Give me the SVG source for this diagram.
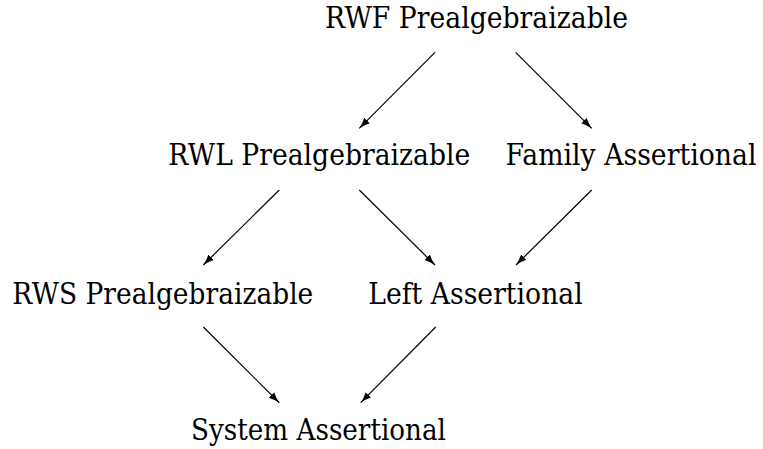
<svg xmlns="http://www.w3.org/2000/svg" width="763" height="449" viewBox="0 0 763 449">
  <style>
    text { font-family: 'DejaVu Serif', 'Liberation Serif', serif; font-size: 29px; fill: #000; }
    .edge { stroke: #000; stroke-width: 1.2; fill: none; marker-end: url(#head); }
  </style>
  <defs>
    <marker id="head" markerUnits="userSpaceOnUse" markerWidth="12" markerHeight="9" refX="11" refY="4" orient="auto" viewBox="0 0 12 9">
      <path d="M0,0.2 Q5.5,3 11,4 Q5.5,5 0,7.8 Z" fill="#000"/>
    </marker>
  </defs>
  <rect width="763" height="449" fill="#fff"/>

  <g id="rwf">
    <text x="325" y="28" textLength="303" lengthAdjust="spacingAndGlyphs">RWF Prealgebraizable</text>
  </g>
  <g id="rwl">
    <text x="168.3" y="164.5" textLength="302" lengthAdjust="spacingAndGlyphs">RWL Prealgebraizable</text>
  </g>
  <g id="family">
    <text x="756.5" y="164.5" text-anchor="end" textLength="251" lengthAdjust="spacingAndGlyphs">Family Assertional</text>
  </g>
  <g id="rws">
    <text x="12.3" y="304" textLength="301" lengthAdjust="spacingAndGlyphs">RWS Prealgebraizable</text>
  </g>
  <g id="left">
    <text x="368.3" y="304" textLength="214.4" lengthAdjust="spacingAndGlyphs">Left Assertional</text>
  </g>
  <g id="system">
    <text x="191" y="440" textLength="255" lengthAdjust="spacingAndGlyphs">System Assertional</text>
  </g>

  <g id="connectors">
    <line class="edge" x1="435" y1="52.3" x2="359.3" y2="128.3"/>
    <line class="edge" x1="515.7" y1="52.3" x2="591.7" y2="128.3"/>
    <line class="edge" x1="279.3" y1="190" x2="203.3" y2="265"/>
    <line class="edge" x1="359.3" y1="190" x2="435" y2="265"/>
    <line class="edge" x1="591.7" y1="190" x2="516" y2="265"/>
    <line class="edge" x1="203.3" y1="327" x2="279.3" y2="402.7"/>
    <line class="edge" x1="435.7" y1="327" x2="360.7" y2="402.7"/>
  </g>
</svg>
